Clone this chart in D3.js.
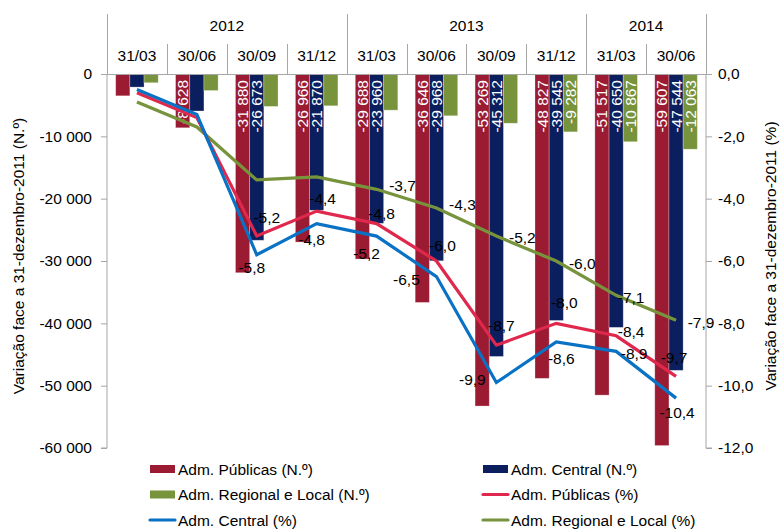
<!DOCTYPE html>
<html>
<head>
<meta charset="utf-8">
<script src="https://cdn.jsdelivr.net/npm/d3@7"></script>
<style>
  body { margin: 0; background: #fff; }
  svg { display: block; font-family: "Liberation Sans", Arial, sans-serif; }
</style>
</head>
<body>
<div class="chart"></div>
<script>
// quarters and years (header rows)
const quarters = ["31/03", "30/06", "30/09", "31/12", "31/03", "30/06", "30/09", "31/12", "31/03", "30/06"];
const years = [
  { name: "2012", from: 0, to: 4 },
  { name: "2013", from: 4, to: 8 },
  { name: "2014", from: 8, to: 10 }
];

// bars (N.º) - left axis
const publicasN = [-3500, -8628, -31880, -26966, -29688, -36646, -53269, -48827, -51517, -59607];
const centralN  = [-2100, -5940, -26673, -21870, -23960, -29968, -45312, -39545, -40650, -47544];
const regionalN = [-1400, -2650, -5200, -5100, -5800, -6700, -7900, -9282, -10867, -12063];

// lines (%) - right axis
const publicasP = [-0.6, -1.4, -5.2, -4.4, -4.8, -6.0, -8.7, -8.0, -8.4, -9.7];
const centralP  = [-0.5, -1.3, -5.8, -4.8, -5.2, -6.5, -9.9, -8.6, -8.9, -10.4];
const regionalP = [-0.9, -1.7, -3.4, -3.3, -3.7, -4.3, -5.2, -6.0, -7.1, -7.9];

// which points get a value label
const barLabelFrom = [1, 2, 7];   // publicas from Q2, central from Q3, regional from Q8
const lineLabelFrom = [2, 2, 4];

// label placement (dx, dy of label centre from the point)
const publicasOff = [null, null, [10, -19], [6, -13], [5, -10], [6, -16], [5, -20], [8, -21], [15, -4], [-2, -19]];
const centralOff  = [null, null, [-5, 13], [-5, 16], [-10, 17], [-30, 3], [-24, -3], [5, 16], [18, 2], [1, 14]];
const regionalOff = [null, null, null, null, [26, -4], [26, -4], [26, 1], [26, 2], [15, 2], [25, 2]];

const width = 781, height = 529;
const mLeft = 107, mRight = 706, mTop = 74, mBottom = 448;
const fontSize = 15.5;

const loc = d3.formatLocale({ decimal: ",", thousands: " ", grouping: [3], currency: ["", ""], minus: "-" });
const fmtN = loc.format(",d");
const fmtP = loc.format(".1f");

const svg = d3.select(".chart").append("svg")
  .attr("width", width)
  .attr("height", height);

const x0 = d3.scaleBand().domain(d3.range(quarters.length)).range([mLeft, mRight]);
const bw = x0.bandwidth();
const seriesN = ["publicas", "central", "regional"];
const x1 = d3.scaleBand().domain(seriesN).range([bw * 0.145, bw * 0.855]);
const y = d3.scaleLinear().domain([-60000, 0]).range([mBottom, mTop]);
const y2 = d3.scaleLinear().domain([-12, 0]).range([mBottom, mTop]);

const barColors = { publicas: "#9B1B32", central: "#0B1F5E", regional: "#77933C" };
const lineColors = { publicas: "#E0284C", central: "#0A72C4", regional: "#77933C" };
const grey = "#A6A6A6";

// header
const header = svg.append("g");
years.forEach(yr => {
  header.append("text")
    .attr("x", (x0(yr.from) + x0(yr.to - 1) + bw) / 2)
    .attr("y", 25)
    .attr("text-anchor", "middle")
    .attr("dominant-baseline", "central")
    .style("font-size", fontSize + "px")
    .text(yr.name);
});
const yearEdges = [0].concat(years.map(d => d.to));
quarters.forEach((q, i) => {
  header.append("text")
    .attr("x", x0(i) + bw / 2)
    .attr("y", 55)
    .attr("text-anchor", "middle")
    .attr("dominant-baseline", "central")
    .style("font-size", fontSize + "px")
    .text(q);
});
d3.range(quarters.length + 1).forEach(i => {
  const xx = Math.round(i < quarters.length ? x0(i) : mRight) + 0.5;
  header.append("line")
    .attr("x1", xx).attr("x2", xx)
    .attr("y1", yearEdges.includes(i) ? 14 : 44)
    .attr("y2", mTop)
    .attr("stroke", grey);
});

// bars
const barData = [publicasN, centralN, regionalN];
const gBars = svg.append("g");
barData.forEach((vals, s) => {
  const key = seriesN[s];
  gBars.selectAll(".bar-" + key)
    .data(vals)
    .enter()
    .append("rect")
    .attr("x", (d, i) => x0(i) + x1(key))
    .attr("y", y(0))
    .attr("width", x1.bandwidth())
    .attr("height", d => y(d) - y(0))
    .attr("fill", barColors[key])
    .attr("stroke", "rgba(255,255,255,0.35)")
    .attr("stroke-width", 0.8);

  gBars.selectAll(".blabel-" + key)
    .data(vals.map((v, i) => ({ v, i })).filter(d => d.i >= barLabelFrom[s]))
    .enter()
    .append("text")
    .attr("transform", d => `translate(${x0(d.i) + x1(key) + x1.bandwidth() / 2},${mTop + 6}) rotate(-90)`)
    .attr("text-anchor", "end")
    .attr("dominant-baseline", "central")
    .attr("fill", "#fff")
    .style("font-size", fontSize + "px")
    .text(d => fmtN(d.v));
});

// axes
const axL = svg.append("g")
  .attr("transform", `translate(${mLeft},0)`)
  .call(d3.axisLeft(y).tickValues(d3.range(-60000, 1, 10000)).tickSize(6).tickPadding(9).tickFormat(fmtN));
const axR = svg.append("g")
  .attr("transform", `translate(${mRight},0)`)
  .call(d3.axisRight(y2).tickValues(d3.range(-12, 0.1, 2)).tickSize(6).tickPadding(6).tickFormat(fmtP));
[axL, axR].forEach(ax => {
  ax.select(".domain").attr("stroke", grey).attr("d", `M0,${mTop}V${mBottom}` + (ax === axL ? `H-6` : `H6`));
  ax.selectAll(".tick line").attr("stroke", grey);
  ax.selectAll("text").style("font-size", fontSize + "px").attr("fill", "#000").style("font-family", "Liberation Sans, Arial, sans-serif");
});
svg.append("line")
  .attr("x1", mLeft - 6).attr("x2", mRight + 6)
  .attr("y1", y(0) + 0.5).attr("y2", y(0) + 0.5)
  .attr("stroke", grey);

// lines
const lineData = [publicasP, centralP, regionalP];
const lineOffs = [publicasOff, centralOff, regionalOff];
const lineGen = d3.line().x((d, i) => x0(i) + bw / 2).y(d => y2(d));
const gLines = svg.append("g");
[2, 0, 1].forEach(s => {
  gLines.append("path")
    .datum(lineData[s])
    .attr("d", lineGen)
    .attr("fill", "none")
    .attr("stroke", lineColors[seriesN[s]])
    .attr("stroke-width", 3.2)
    .attr("stroke-linejoin", "miter");
});
lineData.forEach((vals, s) => {
  gLines.selectAll(".llabel-" + s)
    .data(vals.map((v, i) => ({ v, i })).filter(d => d.i >= lineLabelFrom[s]))
    .enter()
    .append("text")
    .attr("x", d => x0(d.i) + bw / 2 + lineOffs[s][d.i][0])
    .attr("y", d => y2(d.v) + lineOffs[s][d.i][1])
    .attr("text-anchor", "middle")
    .attr("dominant-baseline", "central")
    .style("font-size", fontSize + "px")
    .text(d => fmtP(d.v));
});

// axis titles
svg.append("text")
  .attr("transform", `translate(18,${(mTop + mBottom) / 2 - 5}) rotate(-90)`)
  .attr("text-anchor", "middle")
  .attr("dominant-baseline", "central")
  .style("font-size", fontSize + "px")
  .text("Variação  face a 31-dezembro-2011 (N.º)");
svg.append("text")
  .attr("transform", `translate(770,${(mTop + mBottom) / 2 - 5}) rotate(-90)`)
  .attr("text-anchor", "middle")
  .attr("dominant-baseline", "central")
  .style("font-size", fontSize + "px")
  .text("Variação face a 31-dezembro-2011 (%)");

// legend
const legendItems = [
  { name: "Adm. Públicas (N.º)", color: barColors.publicas, type: "bar" },
  { name: "Adm. Central (N.º)", color: barColors.central, type: "bar" },
  { name: "Adm. Regional e Local (N.º)", color: barColors.regional, type: "bar" },
  { name: "Adm. Públicas (%)", color: lineColors.publicas, type: "line" },
  { name: "Adm. Central  (%)", color: lineColors.central, type: "line" },
  { name: "Adm. Regional e Local (%)", color: lineColors.regional, type: "line" }
];
const leg = svg.append("g");
legendItems.forEach((d, i) => {
  const lx = i % 2 === 0 ? 150 : 483;
  const ly = 469 + Math.floor(i / 2) * 25.5;
  if (d.type === "bar") {
    leg.append("rect").attr("x", lx).attr("y", ly - 4).attr("width", 25).attr("height", 8).attr("fill", d.color);
  } else {
    leg.append("line").attr("x1", lx).attr("x2", lx + 25).attr("y1", ly).attr("y2", ly)
      .attr("stroke", d.color).attr("stroke-width", 3.2).attr("stroke-linecap", "round");
  }
  leg.append("text")
    .attr("x", lx + 28)
    .attr("y", ly)
    .attr("dominant-baseline", "central")
    .style("font-size", fontSize + "px")
    .text(d.name);
});
</script>
</body>
</html>
